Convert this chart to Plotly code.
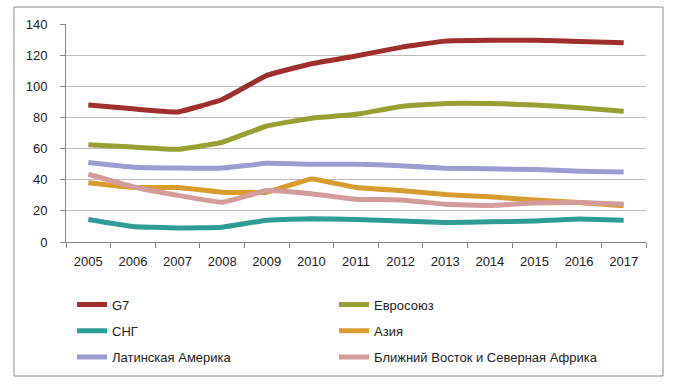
import plotly.graph_objects as go

years = [str(y) for y in range(2005, 2018)]
g7 = [88, 85.5, 83.5, 91.5, 107, 114.5, 119.5, 125, 129, 129.5, 129.5, 128.8, 128]
eu = [62.5, 61, 59.5, 64, 74.5, 79.5, 82, 87, 89, 89, 88, 86.2, 84]
cis = [14.5, 10, 9, 9.5, 14, 15, 14.5, 13.5, 12.5, 13, 13.5, 14.8, 14]
asia = [38, 35, 35, 32, 32, 40.5, 35, 33, 30.5, 29, 27, 25.3, 23.3]
latam = [51, 48, 47.5, 47.5, 50.5, 50, 50, 49, 47.3, 47, 46.5, 45.5, 45]
mena = [43.5, 35.5, 30, 25.5, 33, 31, 27.5, 27, 24.3, 23.5, 25, 25.3, 24.3]

names = ["G7", "Евросоюз", "СНГ", "Азия", "Латинская Америка", "Ближний Восток и Северная Африка"]
series = [g7, eu, cis, asia, latam, mena]
colors = ["#9E2F2D", "#98A033", "#2F9C96", "#D89C2E", "#9C9CD0", "#D49B9B"]
legends = ["legend", "legend2", "legend", "legend2", "legend", "legend2"]

font_family = "Liberation Sans, Arial"
fsize = 13
fcol = "#222222"

fig = go.Figure()
for name, vals, col, lg in zip(names, series, colors, legends):
    fig.add_trace(go.Scatter(
        x=years, y=vals, name=name, mode="lines",
        line=dict(color=col, width=5, shape="spline", smoothing=0.3),
        legend=lg, legendgroup=name,
    ))

L, R, T, B = 66, 30, 24, 143
W, H = 676, 385
pw, ph = W - L - R, H - T - B

def px_to_paper_x(px):
    return (px - L) / pw

def px_to_paper_y(py):
    return (H - B - py) / ph

legend_common = dict(
    xref="container", yref="container", xanchor="left", yanchor="top",
    orientation="v", tracegroupgap=6.4, bgcolor="rgba(0,0,0,0)",
    font=dict(family=font_family, size=fsize, color=fcol),
)

fig.update_layout(
    width=W, height=H,
    margin=dict(l=L, r=R, t=T, b=B, autoexpand=False),
    paper_bgcolor="white", plot_bgcolor="white",
    font=dict(family=font_family, size=fsize, color=fcol),
    showlegend=True,
    legend=dict(x=72 / W, y=1 - 289.5 / H, **legend_common),
    legend2=dict(x=334 / W, y=1 - 289.5 / H, **legend_common),
    xaxis=dict(
        type="category", range=[-0.5, 12.5], tickson="boundaries", ticks="outside", ticklen=5,
        tickcolor="#868686", showline=True, linecolor="#868686", linewidth=1,
        showgrid=False, ticklabelstandoff=7,
        tickfont=dict(family=font_family, size=fsize, color=fcol),
    ),
    yaxis=dict(
        range=[0, 140], dtick=20, tick0=0, ticks="outside", ticklen=5,
        tickcolor="#868686", showline=True, linecolor="#868686", linewidth=1,
        showgrid=True, gridcolor="#BDBDBD", gridwidth=1, zeroline=False,
        ticklabelstandoff=10,
        tickfont=dict(family=font_family, size=fsize, color=fcol),
    ),
    shapes=[dict(
        type="rect", xref="paper", yref="paper",
        x0=px_to_paper_x(14), x1=px_to_paper_x(663),
        y0=px_to_paper_y(376), y1=px_to_paper_y(7),
        line=dict(color="#8A8A8A", width=1), fillcolor="rgba(0,0,0,0)", layer="below",
    )],
)

fig.write_html(
    "out.html",
    config={"displayModeBar": False},
    post_script="document.body.style.margin='0';document.body.style.padding='0';",
)
